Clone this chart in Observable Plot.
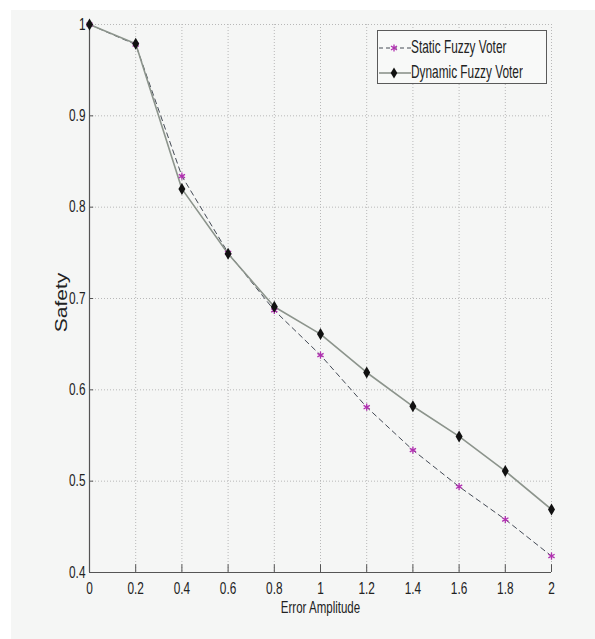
<!DOCTYPE html>
<html>
<head>
<meta charset="utf-8">
<script src="https://cdn.jsdelivr.net/npm/d3@7"></script>
<script src="https://cdn.jsdelivr.net/npm/@observablehq/plot@0.6"></script>
<style>
  html, body { margin: 0; padding: 0; background: #ffffff; }
  #wrap { position: relative; width: 595px; height: 639px; overflow: hidden; }
  #bg { position: absolute; left: 11px; top: 10px; right: 0; bottom: 0; background: #f5f6f5; }
  #chart { position: absolute; left: 0; top: 0; }
  #legend { position: absolute; left: 377px; top: 30px; width: 170px; height: 54px;
    border: 1px solid #5a5a5a; box-sizing: border-box; background: #f8f9f8;
    font-family: "Liberation Sans", Arial, sans-serif;
    font-size: 18.5px; color: #222; }
  #legend svg { position: absolute; left: 0; top: 0; }
  .lt { position: absolute; left: 33px; line-height: 20px; white-space: nowrap;
    transform: scaleX(0.64); transform-origin: 0 50%; }
</style>
</head>
<body>
<div id="wrap">
  <div id="bg"></div>
  <div id="chart"></div>
  <div id="legend">
    <svg width="36" height="54">
      <line x1="1" x2="33" y1="17" y2="17" stroke="#444a55" stroke-width="1" stroke-dasharray="4,3"/>
      <path d="M16,13.5 V20.5 M13,15 L19,19 M13,19 L19,15" stroke="#b030b0" stroke-width="1.3" fill="none"/>
      <line x1="1" x2="33" y1="42" y2="42" stroke="#8c948c" stroke-width="1.6"/>
      <path d="M16,36.5 L19.3,42 L16,47.5 L12.7,42 Z" fill="#111"/>
    </svg>
    <div class="lt" style="top:6px">Static Fuzzy Voter</div>
    <div class="lt" style="top:31px">Dynamic Fuzzy Voter</div>
  </div>
</div>
<script>
const amplitude = [0, 0.2, 0.4, 0.6, 0.8, 1.0, 1.2, 1.4, 1.6, 1.8, 2.0];
const staticSafety  = [1.000, 0.978, 0.834, 0.750, 0.687, 0.638, 0.581, 0.534, 0.494, 0.458, 0.418];
const dynamicSafety = [1.000, 0.979, 0.820, 0.749, 0.691, 0.661, 0.619, 0.582, 0.549, 0.511, 0.469];
const xTicks = [0, 0.2, 0.4, 0.6, 0.8, 1, 1.2, 1.4, 1.6, 1.8, 2];
const yTicks = [0.4, 0.5, 0.6, 0.7, 0.8, 0.9, 1];
const xLabel = "Error Amplitude";
const yLabel = "Safety";

const staticData = amplitude.map((x, i) => ({x, y: staticSafety[i]}));
const dynamicData = amplitude.map((x, i) => ({x, y: dynamicSafety[i]}));

const tallDiamond = {
  draw(ctx, size) {
    const w = 3.5, h = 6;
    ctx.moveTo(0, -h); ctx.lineTo(w, 0); ctx.lineTo(0, h); ctx.lineTo(-w, 0); ctx.closePath();
  }
};
const star = {
  draw(ctx, size) {
    const r = 3.6;
    ctx.moveTo(0, -r); ctx.lineTo(0, r);
    ctx.moveTo(-r * 0.87, -r * 0.5); ctx.lineTo(r * 0.87, r * 0.5);
    ctx.moveTo(-r * 0.87, r * 0.5); ctx.lineTo(r * 0.87, -r * 0.5);
  }
};

const font = '"Liberation Sans", Arial, sans-serif';

const chart = Plot.plot({
  width: 595,
  height: 639,
  marginLeft: 89,
  marginRight: 44,
  marginTop: 24,
  marginBottom: 67,
  style: { background: "transparent", fontFamily: font, fontSize: "16px", color: "#222", overflow: "visible" },
  x: { domain: [0, 2] },
  y: { domain: [0.4, 1] },
  marks: [
    Plot.ruleX(xTicks.slice(1), { stroke: "#b8b8b8", strokeDasharray: "1,2", strokeWidth: 1 }),
    Plot.ruleY(yTicks.slice(1), { stroke: "#b8b8b8", strokeDasharray: "1,2", strokeWidth: 1 }),
    Plot.ruleY(yTicks, { x1: 0, x2: 0.018, stroke: "#555" }),
    Plot.ruleX(xTicks, { y1: 0.4, y2: 0.4085, stroke: "#555" }),
    Plot.ruleX([0], { stroke: "#555", strokeWidth: 1.2 }),
    Plot.ruleY([0.4], { stroke: "#555", strokeWidth: 1.2 }),
    Plot.axisX(xTicks, { tickSize: 0, tickPadding: 10, tickFormat: d => String(d), fontSize: 16, label: null }),
    Plot.axisY(yTicks, { tickSize: 0, tickPadding: 4, tickFormat: d => String(d), fontSize: 16, label: null }),
    Plot.text([xLabel], { frameAnchor: "bottom", lineAnchor: "middle", textAnchor: "middle", dy: 35, fontSize: 16, fill: "#222" }),
    Plot.text([yLabel], { frameAnchor: "left", lineAnchor: "middle", textAnchor: "middle", dx: -28, dy: 4, rotate: -90, fontSize: 21, fill: "#222" }),
    Plot.line(staticData, { x: "x", y: "y", stroke: "#444a55", strokeWidth: 1, strokeDasharray: "5,4" }),
    Plot.line(dynamicData, { x: "x", y: "y", stroke: "#8c948c", strokeWidth: 1.6 }),
    Plot.dot(staticData, { x: "x", y: "y", symbol: star, stroke: "#b030b0", strokeWidth: 1.3, fill: "none", r: 4 }),
    Plot.dot(dynamicData, { x: "x", y: "y", symbol: tallDiamond, fill: "#111", stroke: "none", r: 4 })
  ]
});
// narrow the type to match the condensed look of the reference
for (const t of chart.querySelectorAll("text")) {
  const tr = t.getAttribute("transform") || "";
  const s = t.textContent === yLabel ? "scale(1,0.76)" : t.textContent === xLabel ? "scale(0.72,1)" : "scale(0.74,1)";
  t.setAttribute("transform", `${tr} ${s}`);
}
document.getElementById("chart").appendChild(chart);
</script>
</body>
</html>
